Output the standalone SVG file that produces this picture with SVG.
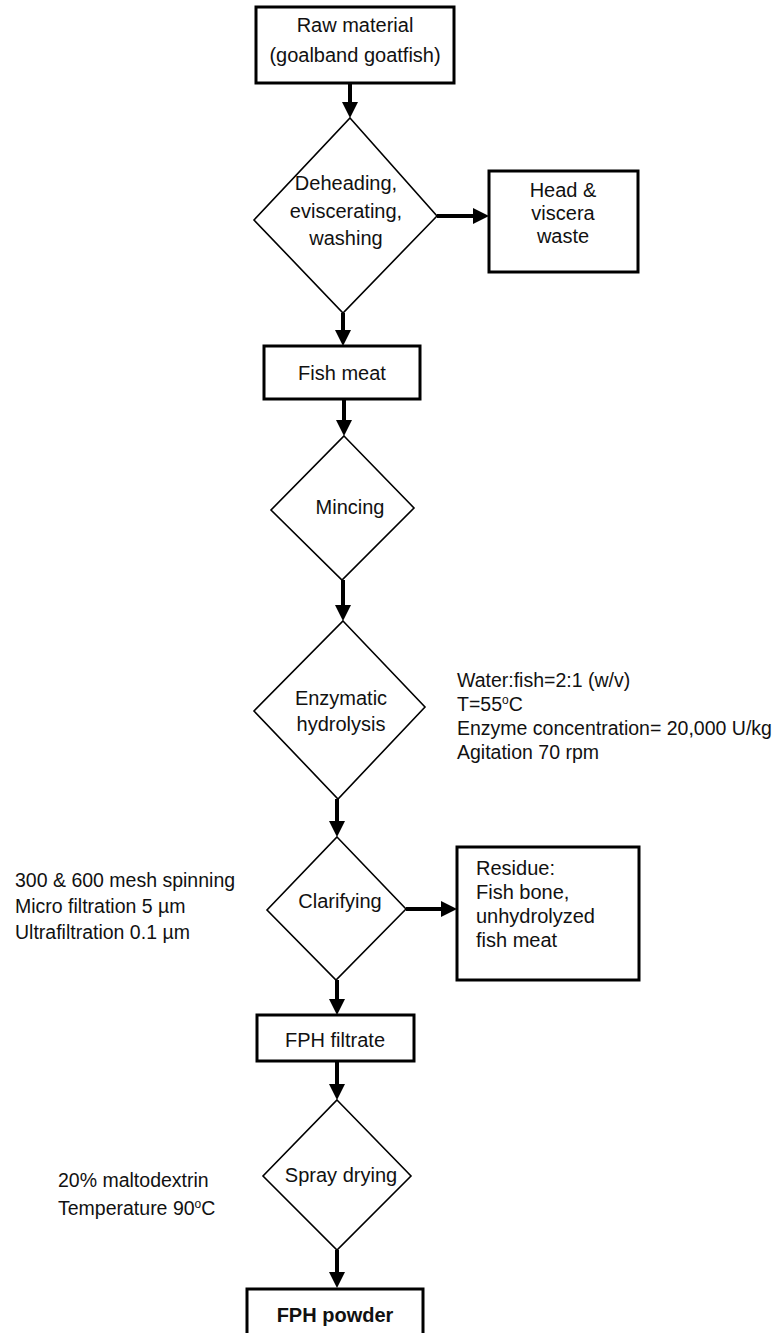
<svg xmlns="http://www.w3.org/2000/svg" width="781" height="1333" viewBox="0 0 781 1333">
<style>
text{font-family:"Liberation Sans",Arial,sans-serif;font-size:20px;fill:#111}
.c{text-anchor:middle}
.s{font-size:19.5px}
.b{font-weight:bold}
.box{fill:#fff;stroke:#000;stroke-width:3}
.dia{fill:#fff;stroke:#000;stroke-width:1.6}
.con line{stroke:#000;stroke-width:4;marker-end:url(#ah)}
</style>
<defs>
<marker id="ah" markerUnits="userSpaceOnUse" markerWidth="16" markerHeight="16" refX="4" refY="8" orient="auto">
<path d="M0,0 L16,8 L0,16 z" fill="#000"/>
</marker>
</defs>
<rect width="781" height="1333" fill="#fff"/>
<g id="connectors" class="con">
<line x1="350" y1="83" x2="350" y2="106"/>
<line x1="437" y1="216" x2="477" y2="216"/>
<line x1="343" y1="313" x2="343" y2="334"/>
<line x1="344" y1="399" x2="344" y2="424"/>
<line x1="343" y1="580" x2="343" y2="609"/>
<line x1="337" y1="799" x2="337" y2="825"/>
<line x1="406" y1="909" x2="445" y2="909"/>
<line x1="337" y1="980" x2="337" y2="1003"/>
<line x1="337" y1="1061" x2="337" y2="1088"/>
<line x1="337" y1="1250" x2="337" y2="1276"/>
</g>
<g id="raw">
<rect class="box" x="256" y="7" width="198" height="76"/>
<text class="c" x="355" y="32">Raw material</text>
<text class="c" x="355" y="62">(goalband goatfish)</text>
</g>
<g id="deheading">
<polygon class="dia" points="350,118 437,216 343,313 254,220"/>
<text class="c" x="346" y="190">Deheading,</text>
<text class="c" x="346" y="218">eviscerating,</text>
<text class="c" x="346" y="245">washing</text>
</g>
<g id="waste">
<rect class="box" x="489" y="171" width="149" height="101"/>
<text class="c" x="563" y="197">Head &amp;</text>
<text class="c" x="563" y="220">viscera</text>
<text class="c" x="563" y="243">waste</text>
</g>
<g id="fishmeat">
<rect class="box" x="264" y="346" width="156" height="53"/>
<text class="c" x="342" y="380">Fish meat</text>
</g>
<g id="mincing">
<polygon class="dia" points="344,436 414,508 342,580 271,510"/>
<text class="c" x="350" y="514">Mincing</text>
</g>
<g id="hydrolysis">
<polygon class="dia" points="343,621 425,707 338,799 254,711"/>
<text class="c" x="341" y="705">Enzymatic</text>
<text class="c" x="341" y="731">hydrolysis</text>
</g>
<g id="hydrolysis-conditions">
<text class="s" x="457" y="687">Water:fish=2:1 (w/v)</text>
<text class="s" x="457" y="711">T=55<tspan font-size="12" dy="-7">o</tspan><tspan dy="7">C</tspan></text>
<text class="s" x="457" y="735">Enzyme concentration= 20,000 U/kg</text>
<text class="s" x="457" y="759">Agitation 70 rpm</text>
</g>
<g id="clarifying">
<polygon class="dia" points="337,837 406,909 336,980 267,910"/>
<text class="c" x="340" y="908">Clarifying</text>
</g>
<g id="clarifying-conditions">
<text class="s" x="15" y="887">300 &amp; 600 mesh spinning</text>
<text class="s" x="15" y="913">Micro filtration 5 µm</text>
<text class="s" x="15" y="939">Ultrafiltration 0.1 µm</text>
</g>
<g id="residue">
<rect class="box" x="457" y="847" width="182" height="133"/>
<text x="476" y="875">Residue:</text>
<text x="476" y="899">Fish bone,</text>
<text x="476" y="923">unhydrolyzed</text>
<text x="476" y="947">fish meat</text>
</g>
<g id="filtrate">
<rect class="box" x="257" y="1015" width="157" height="46"/>
<text class="c" x="335" y="1047">FPH filtrate</text>
</g>
<g id="spray">
<polygon class="dia" points="337,1100 411,1176 337,1250 263,1176"/>
<text class="c" x="341" y="1182">Spray drying</text>
</g>
<g id="spray-conditions">
<text class="s" x="58" y="1187">20% maltodextrin</text>
<text class="s" x="58" y="1215">Temperature 90<tspan font-size="12" dy="-7">o</tspan><tspan dy="7">C</tspan></text>
</g>
<g id="powder">
<rect class="box" x="247" y="1289" width="176" height="60"/>
<text class="c b" x="335" y="1322">FPH powder</text>
</g>
</svg>
